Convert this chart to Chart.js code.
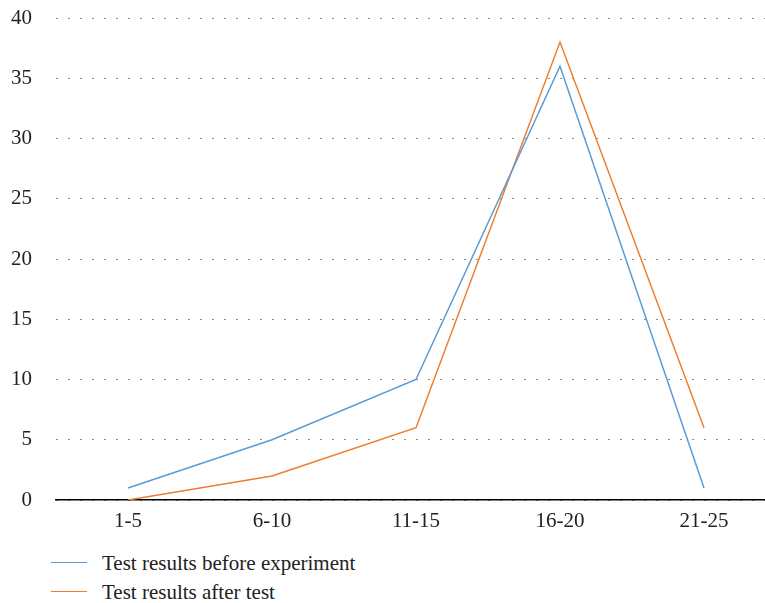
<!DOCTYPE html>
<html>
<head>
<meta charset="utf-8">
<script src="https://cdn.jsdelivr.net/npm/chart.js@4"></script>
<style>
  html, body { margin: 0; padding: 0; width: 765px; height: 603px; overflow: hidden; background: #fff; }
  #wrap { position: absolute; left: 0; top: 0; width: 776px; height: 540px; }
  .leg { position: absolute; left: 51px; height: 26px; font-family: 'Liberation Serif', serif; font-size: 21px; color: #222; white-space: nowrap; }
  .leg .ln { position: absolute; left: 0; top: 12px; width: 36px; height: 0; border-top: 1.5px solid; }
  .leg .tx { position: absolute; left: 51px; top: 0; line-height: 26px; }
</style>
</head>
<body>
<div id="wrap"><canvas id="c" width="776" height="540"></canvas></div>
<div class="leg" id="leg0" style="top:550px"><span class="ln"></span><span class="tx"></span></div>
<div class="leg" id="leg1" style="top:579px"><span class="ln"></span><span class="tx"></span></div>
<script>
const categories = ['1-5', '6-10', '11-15', '16-20', '21-25'];
const beforeValues = [1, 5, 10, 36, 1];
const afterValues = [0, 2, 6, 38, 6];
const seriesNames = ['Test results before experiment', 'Test results after test'];
const seriesColors = ['#5B9BD5', '#ED7D31'];
const yTicks = { min: 0, max: 40, step: 5 };

Chart.defaults.font.family = "'Liberation Serif', serif";
Chart.defaults.font.size = 21;
Chart.defaults.color = '#222';

const datasets = [beforeValues, afterValues].map((vals, i) => ({
  label: seriesNames[i],
  data: vals,
  borderColor: seriesColors[i],
  backgroundColor: seriesColors[i],
  borderWidth: 1.5,
  pointRadius: 0,
  tension: 0,
  fill: false
}));

new Chart(document.getElementById('c'), {
  type: 'line',
  data: { labels: categories, datasets: datasets },
  options: {
    responsive: false,
    animation: false,
    layout: { autoPadding: false, padding: { top: 18, right: 0, bottom: 0, left: 0 } },
    plugins: { legend: { display: false }, tooltip: { enabled: false } },
    scales: {
      x: {
        offset: true,
        grid: { display: true, drawOnChartArea: false, drawTicks: false },
        border: { display: true, color: '#000', width: 1.5 },
        ticks: { padding: 9, color: '#222' },
        afterFit: (s) => { s.height = 40; s.paddingLeft = 0; s.paddingRight = 0; }
      },
      y: {
        min: yTicks.min,
        max: yTicks.max,
        ticks: { stepSize: yTicks.step, padding: 24, color: '#222' },
        grid: { color: '#8a8a8a', lineWidth: 1, drawTicks: false },
        border: { display: false, dash: [2, 10] },
        afterFit: (s) => { s.width = 56; s.paddingTop = 0; s.paddingBottom = 0; }
      }
    }
  }
});

[0, 1].forEach(i => {
  const el = document.getElementById('leg' + i);
  el.querySelector('.ln').style.borderColor = seriesColors[i];
  el.querySelector('.tx').textContent = seriesNames[i];
});
</script>
</body>
</html>
